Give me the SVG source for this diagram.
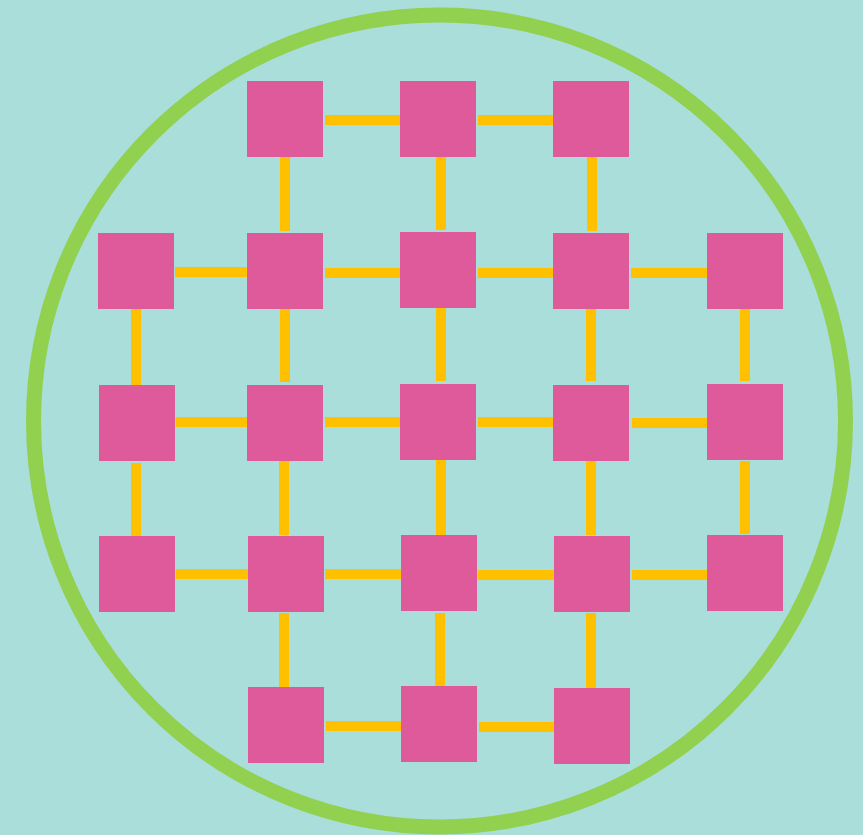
<svg xmlns="http://www.w3.org/2000/svg" width="863" height="835" viewBox="0 0 863 835">
<style>
.n{fill:#df5a9b}
.c rect{fill:#ffc000}
</style>
<rect width="863" height="835" fill="#aadedb"/>
<circle cx="439.5" cy="421" r="406" fill="none" stroke="#92d050" stroke-width="15"/>
<g id="connectors" class="c">
<rect x="325" y="115" width="75" height="10"/>
<rect x="478" y="115" width="75" height="10"/>
<rect x="175" y="267" width="72" height="10"/>
<rect x="325" y="268" width="75" height="10"/>
<rect x="478" y="268" width="75" height="10"/>
<rect x="631" y="268" width="76" height="10"/>
<rect x="176" y="417" width="71" height="10"/>
<rect x="325" y="417" width="75" height="10"/>
<rect x="478" y="417" width="75" height="10"/>
<rect x="632" y="418" width="75" height="10"/>
<rect x="176" y="569" width="72" height="10"/>
<rect x="325" y="569" width="76" height="10"/>
<rect x="478" y="570" width="76" height="10"/>
<rect x="632" y="570" width="75" height="10"/>
<rect x="326" y="721" width="75" height="10"/>
<rect x="479" y="722" width="75" height="10"/>
<rect x="280" y="157" width="10" height="74"/>
<rect x="436" y="157" width="10" height="73"/>
<rect x="587" y="157" width="10" height="74"/>
<rect x="131" y="309" width="10" height="76"/>
<rect x="280" y="309" width="10" height="73"/>
<rect x="436" y="308" width="10" height="73"/>
<rect x="586" y="309" width="10" height="72"/>
<rect x="740" y="309" width="10" height="72"/>
<rect x="131" y="463" width="10" height="73"/>
<rect x="279" y="461" width="10" height="74"/>
<rect x="436" y="460" width="10" height="75"/>
<rect x="586" y="461" width="10" height="74"/>
<rect x="740" y="461" width="10" height="73"/>
<rect x="279" y="613" width="10" height="74"/>
<rect x="435" y="613" width="10" height="73"/>
<rect x="586" y="613" width="10" height="75"/>
</g>
<g id="n00"><rect class="n" x="247" y="81" width="76" height="76"/></g>
<g id="n01"><rect class="n" x="400" y="81" width="76" height="76"/></g>
<g id="n02"><rect class="n" x="553" y="81" width="76" height="76"/></g>
<g id="n10"><rect class="n" x="98" y="233" width="76" height="76"/></g>
<g id="n11"><rect class="n" x="247" y="233" width="76" height="76"/></g>
<g id="n12"><rect class="n" x="400" y="232" width="76" height="76"/></g>
<g id="n13"><rect class="n" x="553" y="233" width="76" height="76"/></g>
<g id="n14"><rect class="n" x="707" y="233" width="76" height="76"/></g>
<g id="n20"><rect class="n" x="99" y="385" width="76" height="76"/></g>
<g id="n21"><rect class="n" x="247" y="385" width="76" height="76"/></g>
<g id="n22"><rect class="n" x="400" y="384" width="76" height="76"/></g>
<g id="n23"><rect class="n" x="553" y="385" width="76" height="76"/></g>
<g id="n24"><rect class="n" x="707" y="384" width="76" height="76"/></g>
<g id="n30"><rect class="n" x="99" y="536" width="76" height="76"/></g>
<g id="n31"><rect class="n" x="248" y="536" width="76" height="76"/></g>
<g id="n32"><rect class="n" x="401" y="535" width="76" height="76"/></g>
<g id="n33"><rect class="n" x="554" y="536" width="76" height="76"/></g>
<g id="n34"><rect class="n" x="707" y="535" width="76" height="76"/></g>
<g id="n40"><rect class="n" x="248" y="687" width="76" height="76"/></g>
<g id="n41"><rect class="n" x="401" y="686" width="76" height="76"/></g>
<g id="n42"><rect class="n" x="554" y="688" width="76" height="76"/></g>
</svg>
